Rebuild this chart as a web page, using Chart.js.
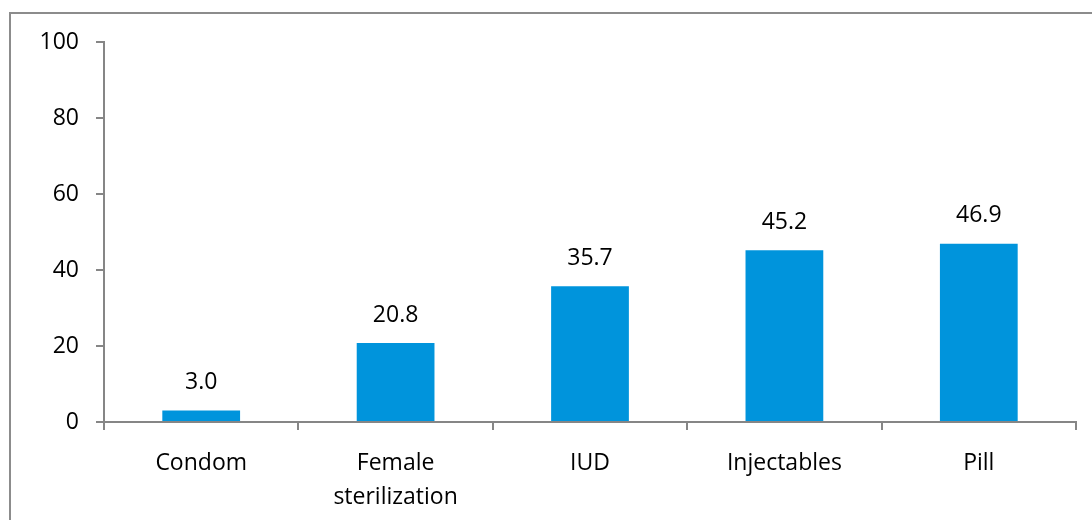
<!DOCTYPE html>
<html>
<head>
<meta charset="utf-8">
<script src="https://cdn.jsdelivr.net/npm/chart.js@4.4.0/dist/chart.umd.min.js"></script>
<style>
html,body{margin:0;padding:0;background:#fff;}
#wrap{position:relative;width:1092px;height:520px;}
</style>
</head>
<body>
<div id="wrap"><canvas id="c" width="1092" height="520"></canvas></div>
<script>
const categories = [["Condom"], ["Female", "sterilization"], ["IUD"], ["Injectables"], ["Pill"]];
const values = [3.0, 20.8, 35.7, 45.2, 46.9];
const yTicks = [0, 20, 40, 60, 80, 100];

const FONT = "'Open Sans', 'DejaVu Sans', sans-serif";
const AXIS = '#868686';

const framePlugin = {
  id: 'frame',
  beforeDraw(chart) {
    const ctx = chart.ctx;
    ctx.save();
    ctx.fillStyle = '#8c8c8c';
    ctx.fillRect(9, 12, 2, 520 - 12);
    ctx.fillRect(9, 12, 1092 - 9, 2);
    ctx.restore();
  }
};

const labelPlugin = {
  id: 'vlabels',
  afterDatasetsDraw(chart) {
    const ctx = chart.ctx;
    const meta = chart.getDatasetMeta(0);
    ctx.save();
    ctx.font = "23px " + FONT;
    ctx.fillStyle = '#000';
    ctx.textAlign = 'center';
    ctx.textBaseline = 'middle';
    meta.data.forEach((bar, i) => {
      ctx.fillText(values[i].toFixed(1), bar.x, bar.y - 28);
    });
    ctx.restore();
  }
};

new Chart(document.getElementById('c'), {
  type: 'bar',
  data: {
    labels: categories,
    datasets: [{
      data: values,
      backgroundColor: '#0094DC',
      borderWidth: 0,
      barPercentage: 0.4,
      categoryPercentage: 1.0
    }]
  },
  options: {
    responsive: false,
    animation: false,
    devicePixelRatio: 1,
    layout: { padding: { left: 0, top: 42, right: 16, bottom: 0 } },
    plugins: { legend: { display: false }, tooltip: { enabled: false } },
    scales: {
      x: {
        afterFit(s) { s.height = 98; },
        grid: { display: true, offset: true, drawOnChartArea: false, drawTicks: true, tickLength: 8, color: AXIS, lineWidth: 2 },
        border: { display: true, color: AXIS, width: 2 },
        ticks: { color: '#000', font: { family: FONT, size: 23, lineHeight: 1.5 }, padding: 16, maxRotation: 0, autoSkip: false }
      },
      y: {
        min: 0, max: 100,
        afterFit(s) { s.width = 104; },
        afterBuildTicks(s) { s.ticks = yTicks.map(v => ({ value: v })); },
        grid: { display: true, drawOnChartArea: false, drawTicks: true, tickLength: 8, color: AXIS, lineWidth: 2 },
        border: { display: true, color: AXIS, width: 2 },
        ticks: { color: '#000', font: { family: FONT, size: 23 }, padding: 17 }
      }
    }
  },
  plugins: [framePlugin, labelPlugin]
});
</script>
</body>
</html>
